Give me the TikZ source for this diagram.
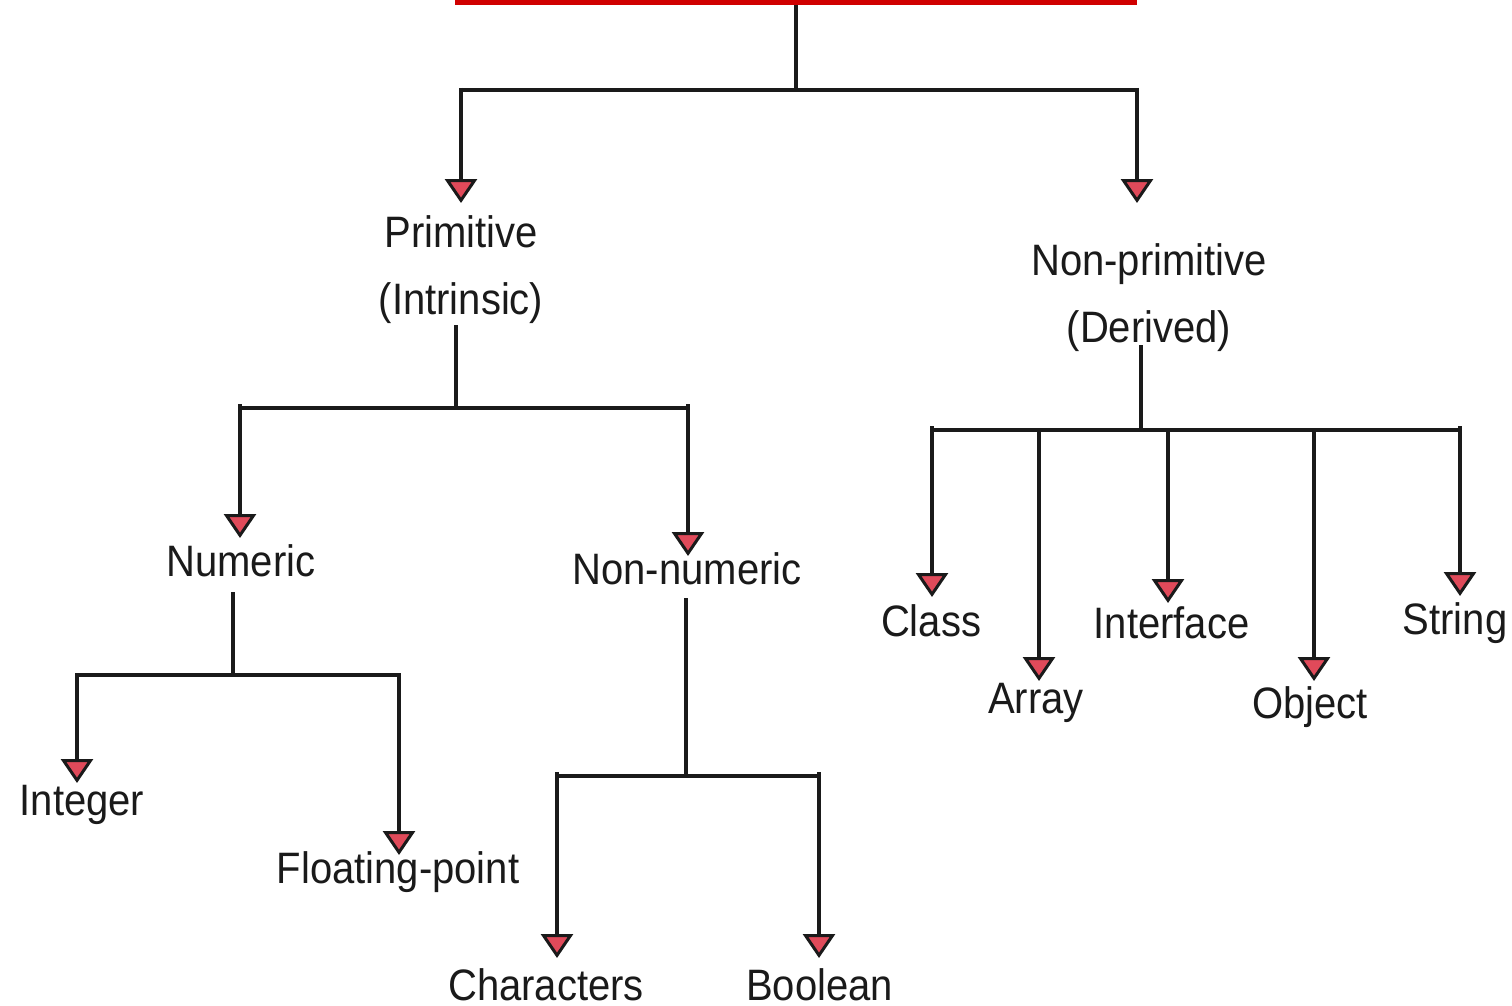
\documentclass[tikz,border=0pt]{standalone}
\usepackage{fontspec}
\setmainfont{Liberation Sans}
\usetikzlibrary{arrows.meta}
\definecolor{barred}{HTML}{D00000}
\definecolor{tipred}{HTML}{E04A5A}
\definecolor{ink}{HTML}{1A1A1A}
\newcommand\tl[1]{\scalebox{1}[1.1]{#1}}
\begin{document}
\begin{tikzpicture}[x=1pt,y=1pt,
  lbl/.style={inner sep=0pt, font=\fontsize{40}{67.5}\selectfont, text=ink, text height=31.5pt, text depth=0pt},
  lbltwo/.style={inner sep=0pt, font=\fontsize{40}{67.5}\selectfont, text=ink, align=center, anchor=north},
  conn/.style={line width=4.6pt, ink},
  arr/.style={conn, -{Triangle[width=32pt,length=24pt,fill=tipred,line width=3pt]}}]
\clip (0,0) rectangle (1512,-1006);
\useasboundingbox (0,0) rectangle (1512,-1006);
\fill[white] (0,0) rectangle (1512,-1006);
% root bar
\node[fill=barred, minimum width=682pt, minimum height=16pt, inner sep=0pt] (root) at (796,3) {};
% labels
\node[lbltwo] (prim) at (461,-215) {\tl{Primitive}\\\tl{(Intrinsic)}};
\node[lbltwo] (nonprim) at (1149,-243) {\tl{Non-primitive}\\\tl{(Derived)}};
\node[lbl] (num) at (241,-561) {\tl{Numeric}};
\node[lbl] (nonnum) at (687,-569) {\tl{Non-numeric}};
\node[lbl] (int) at (82,-800) {\tl{Integer}};
\node[lbl] (fl) at (398,-867.5) {\tl{Floating-point}};
\node[lbl] (char) at (546,-985) {\tl{Characters}};
\node[lbl] (bool) at (819.5,-985) {\tl{Boolean}};
\node[lbl] (class) at (931,-621) {\tl{Class}};
\node[lbl] (array) at (1036,-698) {\tl{Array}};
\node[lbl] (iface) at (1171.5,-623) {\tl{Interface}};
\node[lbl] (obj) at (1310,-703) {\tl{Object}};
\node[lbl] (str) at (1455,-619) {\tl{String}};
% junctions
\coordinate (j0) at (796,-90);
\coordinate (jPL) at (461,-90);
\coordinate (jPR) at (1137,-90);
\coordinate (jP) at (456,-408);
\coordinate (jNL) at (240,-408);
\coordinate (jNR) at (688,-408);
\coordinate (jN) at (233,-675);
\coordinate (jIL) at (77,-675);
\coordinate (jIR) at (399,-675);
\coordinate (jC) at (686,-776);
\coordinate (jCL) at (557,-776);
\coordinate (jCR) at (819,-776);
\coordinate (jD) at (1141,-430);
\coordinate (jD1) at (932,-430);
\coordinate (jD2) at (1039,-430);
\coordinate (jD3) at (1168,-430);
\coordinate (jD4) at (1314,-430);
\coordinate (jD5) at (1460,-430);
% tips
\coordinate (tPrim) at (461,-203);
\coordinate (tNon) at (1137,-203);
\coordinate (tNum) at (240,-538);
\coordinate (tNonN) at (688,-556);
\coordinate (tInt) at (77,-783);
\coordinate (tFl) at (399,-855);
\coordinate (tChar) at (557,-958);
\coordinate (tBool) at (819,-958);
\coordinate (tClass) at (932,-597);
\coordinate (tArray) at (1039,-681);
\coordinate (tIface) at (1168,-603);
\coordinate (tObj) at (1314,-681);
\coordinate (tStr) at (1460,-596);
% level 1
\draw[conn] (root.south) -- (j0);
\draw[conn] (jPL) -- (jPR);
\draw[arr] ([yshift=2pt]jPL) -- (tPrim);
\draw[arr] ([yshift=2pt]jPR) -- (tNon);
% primitive
\draw[conn] (jP |- 0,-325) -- (jP);
\draw[conn] (jNL) -- (jNR);
\draw[arr] ([yshift=4pt]jNL) -- (tNum);
\draw[arr] ([yshift=4pt]jNR) -- (tNonN);
% numeric
\draw[conn] (jN |- 0,-592) -- (jN);
\draw[conn] (jIL) -- (jIR);
\draw[arr] ([yshift=2pt]jIL) -- (tInt);
\draw[arr] ([yshift=2pt]jIR) -- (tFl);
% non-numeric
\draw[conn] (jC |- 0,-598) -- (jC);
\draw[conn] (jCL) -- (jCR);
\draw[arr] ([yshift=4pt]jCL) -- (tChar);
\draw[arr] ([yshift=4pt]jCR) -- (tBool);
% non-primitive
\draw[conn] (jD |- 0,-345) -- (jD);
\draw[conn] (jD1) -- (jD5);
\draw[arr] ([yshift=4pt]jD1) -- (tClass);
\draw[arr] (jD2) -- (tArray);
\draw[arr] (jD3) -- (tIface);
\draw[arr] (jD4) -- (tObj);
\draw[arr] ([yshift=4pt]jD5) -- (tStr);
\end{tikzpicture}
\end{document}
